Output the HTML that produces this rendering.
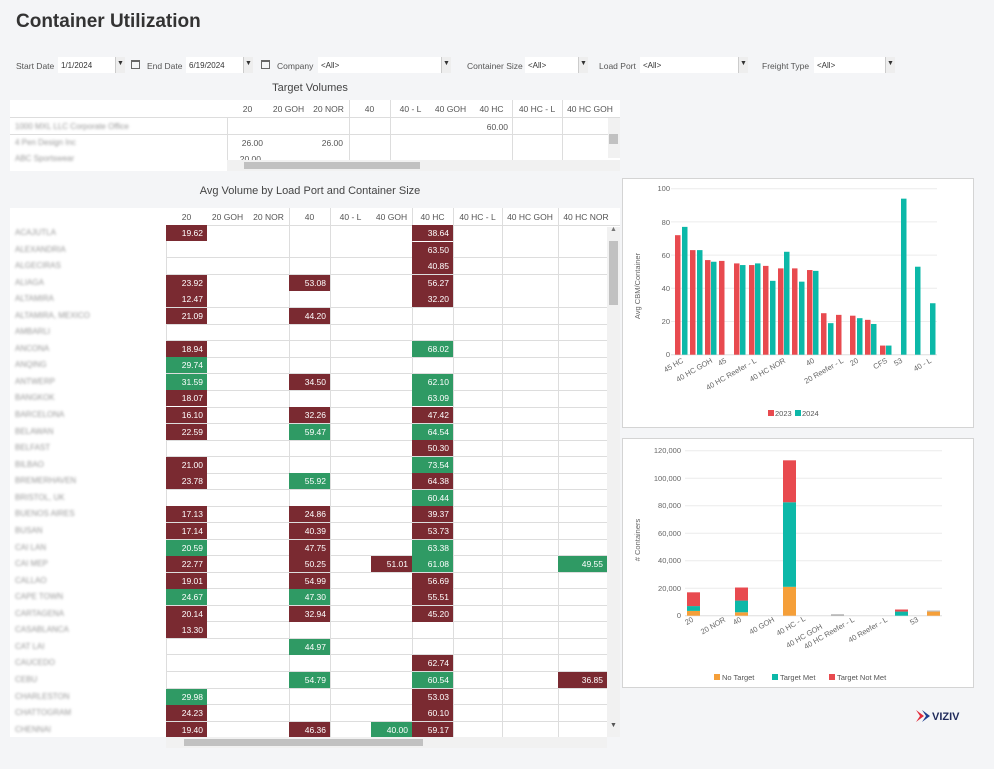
<!DOCTYPE html>
<html><head><meta charset="utf-8"><style>
*{margin:0;padding:0;box-sizing:border-box}
body{width:994px;height:769px;background:#f4f5f7;font-family:"Liberation Sans",sans-serif;position:relative;overflow:hidden;color:#444}
.a{position:absolute}
.lbl{position:absolute;font-size:8.5px;color:#555;top:61px}
.inp{position:absolute;top:57px;height:16px;background:#fff;font-size:8px;color:#333;padding:4px 0 0 3px}
.btn{position:absolute;top:57px;height:16px;width:10px;background:#eee;border-left:1px solid #ccc;font-size:7px;text-align:center;line-height:14px;color:#333}
.cal{position:absolute;top:60px;width:9px;height:9px;border:1px solid #666;border-top-width:2px}
.hd{position:absolute;font-size:8.5px;color:#555;text-align:center}
.row{position:absolute;left:10px;width:597px;height:17px}
.nm{position:absolute;left:5px;top:3px;font-size:8px;color:#999;filter:blur(1.2px)}
.c{position:absolute;top:0;height:16px;width:41px;color:#fff;font-size:8.5px;text-align:right;padding:3px 4px 0 0}
.r{background:#7a2a31}.g{background:#2f9a64}
.k1{left:156px}.k4{left:279px}.k6{left:361px}.k7{left:402px}.k9{left:548px;width:49px}
.vl{position:absolute;width:1px;background:#ddd}
.hl{position:absolute;height:1px;background:#ddd;left:166px;width:441px}
.box{position:absolute;background:#fff;border:1px solid #d4d4d4}
svg text{font-family:"Liberation Sans",sans-serif}
</style></head><body>
<div class="a" style="left:16px;top:11px;font-size:19px;font-weight:bold;color:#333">Container Utilization</div>

<div class="lbl" style="left:16px">Start Date</div><div class="inp" style="left:58px;width:57px">1/1/2024</div><div class="btn" style="left:115px">▼</div><div class="cal" style="left:131px"></div>
<div class="lbl" style="left:147px">End Date</div><div class="inp" style="left:186px;width:57px">6/19/2024</div><div class="btn" style="left:243px">▼</div><div class="cal" style="left:261px"></div>
<div class="lbl" style="left:277px">Company</div><div class="inp" style="left:318px;width:123px">&lt;All&gt;</div><div class="btn" style="left:441px">▼</div>
<div class="lbl" style="left:467px">Container Size</div><div class="inp" style="left:525px;width:53px">&lt;All&gt;</div><div class="btn" style="left:578px">▼</div>
<div class="lbl" style="left:599px">Load Port</div><div class="inp" style="left:640px;width:98px">&lt;All&gt;</div><div class="btn" style="left:738px">▼</div>
<div class="lbl" style="left:762px">Freight Type</div><div class="inp" style="left:814px;width:71px">&lt;All&gt;</div><div class="btn" style="left:885px">▼</div>

<!-- Target volumes -->
<div class="a" style="left:10px;top:82px;width:600px;text-align:center;font-size:11px;color:#444">Target Volumes</div>
<div class="a" style="left:10px;top:100px;width:610px;height:71px;background:#fff"></div>
<div class="a" style="left:10px;top:100px;width:610px;height:18px;border-bottom:1px solid #ddd"></div>
<div class="hd" style="left:227px;width:41px;top:104px">20</div><div class="hd" style="left:268px;width:41px;top:104px">20 GOH</div><div class="hd" style="left:308px;width:41px;top:104px">20 NOR</div><div class="hd" style="left:349px;width:41px;top:104px">40</div><div class="hd" style="left:390px;width:41px;top:104px">40 - L</div><div class="hd" style="left:430px;width:41px;top:104px">40 GOH</div><div class="hd" style="left:471px;width:41px;top:104px">40 HC</div><div class="hd" style="left:512px;width:50px;top:104px">40 HC - L</div><div class="hd" style="left:562px;width:56px;top:104px">40 HC GOH</div>
<div class="vl" style="left:227px;top:118px;height:42px"></div><div class="vl" style="left:349px;top:100px;height:60px"></div><div class="vl" style="left:390px;top:100px;height:60px"></div><div class="vl" style="left:512px;top:100px;height:60px"></div><div class="vl" style="left:562px;top:100px;height:60px"></div>
<div class="a" style="left:10px;top:134px;width:598px;height:1px;background:#ddd"></div>
<div class="nm" style="left:15px;top:122px">1000 MXL LLC Corporate Office</div><div class="nm" style="left:15px;top:138px">4 Pen Design Inc</div><div class="nm" style="left:15px;top:154px">ABC Sportswear</div>
<div class="a" style="left:470px;top:122px;font-size:8.5px;color:#555;width:38px;text-align:right">60.00</div>
<div class="a" style="left:225px;top:138px;font-size:8.5px;color:#555;width:38px;text-align:right">26.00</div><div class="a" style="left:305px;top:138px;font-size:8.5px;color:#555;width:38px;text-align:right">26.00</div>
<div class="a" style="left:225px;top:154px;font-size:8.5px;color:#555;width:36px;text-align:right;height:6px;overflow:hidden">20.00</div>
<div class="a" style="left:227px;top:160px;width:393px;height:11px;background:#f1f1f1"></div>
<div class="a" style="left:244px;top:162px;width:176px;height:7px;background:#c1c1c1"></div>
<div class="a" style="left:608px;top:118px;width:12px;height:40px;background:#f1f1f1"></div>
<div class="a" style="left:609px;top:134px;width:9px;height:10px;background:#c1c1c1"></div>

<!-- Avg volume table -->
<div class="a" style="left:10px;top:185px;width:600px;text-align:center;font-size:11px;color:#444">Avg Volume by Load Port and Container Size</div>
<div class="a" style="left:10px;top:208px;width:610px;height:529px;background:#fff"></div>
<div class="hd" style="left:166px;width:41px;top:212px">20</div><div class="hd" style="left:207px;width:41px;top:212px">20 GOH</div><div class="hd" style="left:248px;width:41px;top:212px">20 NOR</div><div class="hd" style="left:289px;width:41px;top:212px">40</div><div class="hd" style="left:330px;width:41px;top:212px">40 - L</div><div class="hd" style="left:371px;width:41px;top:212px">40 GOH</div><div class="hd" style="left:412px;width:41px;top:212px">40 HC</div><div class="hd" style="left:453px;width:49px;top:212px">40 HC - L</div><div class="hd" style="left:502px;width:56px;top:212px">40 HC GOH</div><div class="hd" style="left:558px;width:56px;top:212px">40 HC NOR</div>
<div class="a" style="left:166px;top:225px;width:454px;height:1px;background:#ddd"></div>
<div class="vl" style="left:166px;top:225px;height:512px"></div><div class="vl" style="left:289px;top:208px;height:529px"></div><div class="vl" style="left:330px;top:208px;height:529px"></div><div class="vl" style="left:412px;top:208px;height:529px"></div><div class="vl" style="left:453px;top:208px;height:529px"></div><div class="vl" style="left:502px;top:208px;height:529px"></div><div class="vl" style="left:558px;top:208px;height:529px"></div>
<div class="hl" style="top:257px"></div><div class="hl" style="top:274px"></div><div class="hl" style="top:307px"></div><div class="hl" style="top:324px"></div><div class="hl" style="top:340px"></div><div class="hl" style="top:357px"></div><div class="hl" style="top:373px"></div><div class="hl" style="top:390px"></div><div class="hl" style="top:407px"></div><div class="hl" style="top:423px"></div><div class="hl" style="top:440px"></div><div class="hl" style="top:456px"></div><div class="hl" style="top:473px"></div><div class="hl" style="top:489px"></div><div class="hl" style="top:506px"></div><div class="hl" style="top:522px"></div><div class="hl" style="top:539px"></div><div class="hl" style="top:555px"></div><div class="hl" style="top:572px"></div><div class="hl" style="top:588px"></div><div class="hl" style="top:605px"></div><div class="hl" style="top:621px"></div><div class="hl" style="top:638px"></div><div class="hl" style="top:654px"></div><div class="hl" style="top:671px"></div><div class="hl" style="top:688px"></div><div class="hl" style="top:704px"></div><div class="hl" style="top:721px"></div>

<div class="row" style="top:225px"><span class="nm">ACAJUTLA</span><div class="c r k1">19.62</div><div class="c r k7">38.64</div></div>
<div class="row" style="top:242px"><span class="nm">ALEXANDRIA</span><div class="c r k7">63.50</div></div>
<div class="row" style="top:258px"><span class="nm">ALGECIRAS</span><div class="c r k7">40.85</div></div>
<div class="row" style="top:275px"><span class="nm">ALIAGA</span><div class="c r k1">23.92</div><div class="c r k4">53.08</div><div class="c r k7">56.27</div></div>
<div class="row" style="top:291px"><span class="nm">ALTAMIRA</span><div class="c r k1">12.47</div><div class="c r k7">32.20</div></div>
<div class="row" style="top:308px"><span class="nm">ALTAMIRA, MEXICO</span><div class="c r k1">21.09</div><div class="c r k4">44.20</div></div>
<div class="row" style="top:324px"><span class="nm">AMBARLI</span></div>
<div class="row" style="top:341px"><span class="nm">ANCONA</span><div class="c r k1">18.94</div><div class="c g k7">68.02</div></div>
<div class="row" style="top:357px"><span class="nm">ANQING</span><div class="c g k1">29.74</div></div>
<div class="row" style="top:374px"><span class="nm">ANTWERP</span><div class="c g k1">31.59</div><div class="c r k4">34.50</div><div class="c g k7">62.10</div></div>
<div class="row" style="top:390px"><span class="nm">BANGKOK</span><div class="c r k1">18.07</div><div class="c g k7">63.09</div></div>
<div class="row" style="top:407px"><span class="nm">BARCELONA</span><div class="c r k1">16.10</div><div class="c r k4">32.26</div><div class="c r k7">47.42</div></div>
<div class="row" style="top:424px"><span class="nm">BELAWAN</span><div class="c r k1">22.59</div><div class="c g k4">59.47</div><div class="c g k7">64.54</div></div>
<div class="row" style="top:440px"><span class="nm">BELFAST</span><div class="c r k7">50.30</div></div>
<div class="row" style="top:457px"><span class="nm">BILBAO</span><div class="c r k1">21.00</div><div class="c g k7">73.54</div></div>
<div class="row" style="top:473px"><span class="nm">BREMERHAVEN</span><div class="c r k1">23.78</div><div class="c g k4">55.92</div><div class="c r k7">64.38</div></div>
<div class="row" style="top:490px"><span class="nm">BRISTOL, UK</span><div class="c g k7">60.44</div></div>
<div class="row" style="top:506px"><span class="nm">BUENOS AIRES</span><div class="c r k1">17.13</div><div class="c r k4">24.86</div><div class="c r k7">39.37</div></div>
<div class="row" style="top:523px"><span class="nm">BUSAN</span><div class="c r k1">17.14</div><div class="c r k4">40.39</div><div class="c r k7">53.73</div></div>
<div class="row" style="top:540px"><span class="nm">CAI LAN</span><div class="c g k1">20.59</div><div class="c r k4">47.75</div><div class="c g k7">63.38</div></div>
<div class="row" style="top:556px"><span class="nm">CAI MEP</span><div class="c r k1">22.77</div><div class="c r k4">50.25</div><div class="c r k6">51.01</div><div class="c g k7">61.08</div><div class="c g k9">49.55</div></div>
<div class="row" style="top:573px"><span class="nm">CALLAO</span><div class="c r k1">19.01</div><div class="c r k4">54.99</div><div class="c r k7">56.69</div></div>
<div class="row" style="top:589px"><span class="nm">CAPE TOWN</span><div class="c g k1">24.67</div><div class="c g k4">47.30</div><div class="c r k7">55.51</div></div>
<div class="row" style="top:606px"><span class="nm">CARTAGENA</span><div class="c r k1">20.14</div><div class="c r k4">32.94</div><div class="c r k7">45.20</div></div>
<div class="row" style="top:622px"><span class="nm">CASABLANCA</span><div class="c r k1">13.30</div></div>
<div class="row" style="top:639px"><span class="nm">CAT LAI</span><div class="c g k4">44.97</div></div>
<div class="row" style="top:655px"><span class="nm">CAUCEDO</span><div class="c r k7">62.74</div></div>
<div class="row" style="top:672px"><span class="nm">CEBU</span><div class="c g k4">54.79</div><div class="c g k7">60.54</div><div class="c r k9">36.85</div></div>
<div class="row" style="top:689px"><span class="nm">CHARLESTON</span><div class="c g k1">29.98</div><div class="c r k7">53.03</div></div>
<div class="row" style="top:705px"><span class="nm">CHATTOGRAM</span><div class="c r k1">24.23</div><div class="c r k7">60.10</div></div>
<div class="row" style="top:722px;height:15px;overflow:hidden"><span class="nm">CHENNAI</span><div class="c r k1">19.40</div><div class="c r k4">46.36</div><div class="c g k6">40.00</div><div class="c r k7">59.17</div></div>

<div class="a" style="left:607px;top:227px;width:13px;height:510px;background:#f1f1f1"></div>
<div class="a" style="left:609px;top:241px;width:9px;height:64px;background:#c1c1c1"></div>
<div class="a" style="left:610px;top:226px;font-size:7px;color:#777">▲</div><div class="a" style="left:610px;top:722px;font-size:7px;color:#555">▼</div>
<div class="a" style="left:166px;top:737px;width:441px;height:11px;background:#f1f1f1"></div>
<div class="a" style="left:184px;top:739px;width:239px;height:7px;background:#c1c1c1"></div>

<!-- Chart 1 -->
<div class="box" style="left:622px;top:178px;width:352px;height:250px"></div>
<svg class="a" style="left:0;top:0" width="994" height="769">
<g stroke="#ececec" stroke-width="1"><line x1="671" x2="937" y1="321.5" y2="321.5"/><line x1="671" x2="937" y1="288.3" y2="288.3"/><line x1="671" x2="937" y1="255.1" y2="255.1"/><line x1="671" x2="937" y1="221.9" y2="221.9"/><line x1="671" x2="937" y1="188.7" y2="188.7"/></g>
<line x1="671" x2="937" y1="354.7" y2="354.7" stroke="#ddd"/>
<g font-size="7.5" fill="#666" text-anchor="end"><text x="670" y="357">0</text><text x="670" y="324">20</text><text x="670" y="291">40</text><text x="670" y="258">60</text><text x="670" y="225">80</text><text x="670" y="191">100</text></g>
<text transform="translate(640,286) rotate(-90)" font-size="7.5" fill="#666" text-anchor="middle">Avg CBM/Container</text>
<g transform="translate(0,354.7) scale(1,-1.66)" fill="#e84a4f">
<rect x="675" width="5.5" height="72"/><rect x="690" width="5.5" height="63"/><rect x="705" width="5.5" height="57"/><rect x="719" width="5.5" height="56.5"/><rect x="734" width="5.5" height="55"/><rect x="749" width="5.5" height="54"/><rect x="763" width="5.5" height="53.5"/><rect x="778" width="5.5" height="52"/><rect x="792" width="5.5" height="52"/><rect x="807" width="5.5" height="51"/><rect x="821" width="5.5" height="25"/><rect x="836" width="5.5" height="24"/><rect x="850" width="5.5" height="23.5"/><rect x="865" width="5.5" height="21"/><rect x="880" width="5.5" height="5.5"/></g>
<g transform="translate(0,354.7) scale(1,-1.66)" fill="#0cb8a8">
<rect x="682" width="5.5" height="77"/><rect x="697" width="5.5" height="63"/><rect x="711" width="5.5" height="56"/><rect x="740" width="5.5" height="54"/><rect x="755" width="5.5" height="55"/><rect x="770" width="5.5" height="44.5"/><rect x="784" width="5.5" height="62"/><rect x="799" width="5.5" height="44"/><rect x="813" width="5.5" height="50.5"/><rect x="828" width="5.5" height="19"/><rect x="857" width="5.5" height="22"/><rect x="871" width="5.5" height="18.5"/><rect x="886" width="5.5" height="5.5"/><rect x="901" width="5.5" height="94"/><rect x="915" width="5.5" height="53"/><rect x="930" width="5.5" height="31"/></g>
<g font-size="7.5" fill="#666" text-anchor="end">
<text transform="translate(684,362) rotate(-30)">45 HC</text><text transform="translate(713,362) rotate(-30)">40 HC GOH</text><text transform="translate(727,362) rotate(-30)">45</text><text transform="translate(757,362) rotate(-30)">40 HC Reefer - L</text><text transform="translate(786,362) rotate(-30)">40 HC NOR</text><text transform="translate(815,362) rotate(-30)">40</text><text transform="translate(844,362) rotate(-30)">20 Reefer - L</text><text transform="translate(859,362) rotate(-30)">20</text><text transform="translate(888,362) rotate(-30)">CFS</text><text transform="translate(903,362) rotate(-30)">53</text><text transform="translate(932,362) rotate(-30)">40 - L</text></g>
<rect x="768" y="410" width="6" height="6" fill="#e84a4f"/><text x="775" y="416" font-size="7.5" fill="#555">2023</text>
<rect x="795" y="410" width="6" height="6" fill="#0cb8a8"/><text x="802" y="416" font-size="7.5" fill="#555">2024</text>
</svg>

<!-- Chart 2 -->
<div class="box" style="left:622px;top:438px;width:352px;height:250px"></div>
<svg class="a" style="left:0;top:0" width="994" height="769">
<g stroke="#ececec"><line x1="685" x2="942" y1="588.2" y2="588.2"/><line x1="685" x2="942" y1="560.7" y2="560.7"/><line x1="685" x2="942" y1="533.2" y2="533.2"/><line x1="685" x2="942" y1="505.7" y2="505.7"/><line x1="685" x2="942" y1="478.2" y2="478.2"/><line x1="685" x2="942" y1="450.7" y2="450.7"/></g>
<line x1="685" x2="942" y1="615.7" y2="615.7" stroke="#ddd"/>
<g font-size="7.5" fill="#666" text-anchor="end"><text x="681" y="618">0</text><text x="681" y="591">20,000</text><text x="681" y="563">40,000</text><text x="681" y="536">60,000</text><text x="681" y="508">80,000</text><text x="681" y="481">100,000</text><text x="681" y="453">120,000</text></g>
<text transform="translate(640,540) rotate(-90)" font-size="7.5" fill="#666" text-anchor="middle"># Containers</text>
<g transform="translate(0,615.7) scale(1,-0.001375)">
<rect x="687" y="0" width="13" height="3500" fill="#f59f39"/><rect x="687" y="3500" width="13" height="3500" fill="#0cb8a8"/><rect x="687" y="7000" width="13" height="10000" fill="#e84a4f"/>
<rect x="735" y="0" width="13" height="2500" fill="#f59f39"/><rect x="735" y="2500" width="13" height="8500" fill="#0cb8a8"/><rect x="735" y="11000" width="13" height="9500" fill="#e84a4f"/>
<rect x="783" y="0" width="13" height="21000" fill="#f59f39"/><rect x="783" y="21000" width="13" height="61500" fill="#0cb8a8"/><rect x="783" y="82500" width="13" height="30500" fill="#e84a4f"/>
<rect x="831" y="0" width="13" height="1000" fill="#aaa"/>
<rect x="895" y="0" width="13" height="3000" fill="#0cb8a8"/><rect x="895" y="3000" width="13" height="1500" fill="#e84a4f"/>
<rect x="927" y="0" width="13" height="3000" fill="#f59f39"/><rect x="927" y="3000" width="13" height="800" fill="#bbb"/></g>
<g font-size="7.5" fill="#666" text-anchor="end">
<text transform="translate(694,621) rotate(-30)">20</text><text transform="translate(726,621) rotate(-30)">20 NOR</text><text transform="translate(742,621) rotate(-30)">40</text><text transform="translate(775,621) rotate(-30)">40 GOH</text><text transform="translate(806,620) rotate(-30)">40 HC - L</text><text transform="translate(823,628) rotate(-30)">40 HC GOH</text><text transform="translate(855,621) rotate(-30)">40 HC Reefer - L</text><text transform="translate(888,621) rotate(-30)">40 Reefer - L</text><text transform="translate(919,621) rotate(-30)">53</text></g>
<rect x="714" y="674" width="6" height="6" fill="#f59f39"/><text x="722" y="680" font-size="7.5" fill="#555">No Target</text>
<rect x="772" y="674" width="6" height="6" fill="#0cb8a8"/><text x="780" y="680" font-size="7.5" fill="#555">Target Met</text>
<rect x="829" y="674" width="6" height="6" fill="#e84a4f"/><text x="837" y="680" font-size="7.5" fill="#555">Target Not Met</text>
<path d="M916 710 L924 716 L916 722 L920 716 Z" fill="#e32b3a"/><path d="M922 710 L930 716 L922 722 L926 716 Z" fill="#1f3f8f"/>
<text x="932" y="720" font-size="11" font-weight="bold" fill="#1f2a5a">VIZIV</text>
</svg>
</body></html>
